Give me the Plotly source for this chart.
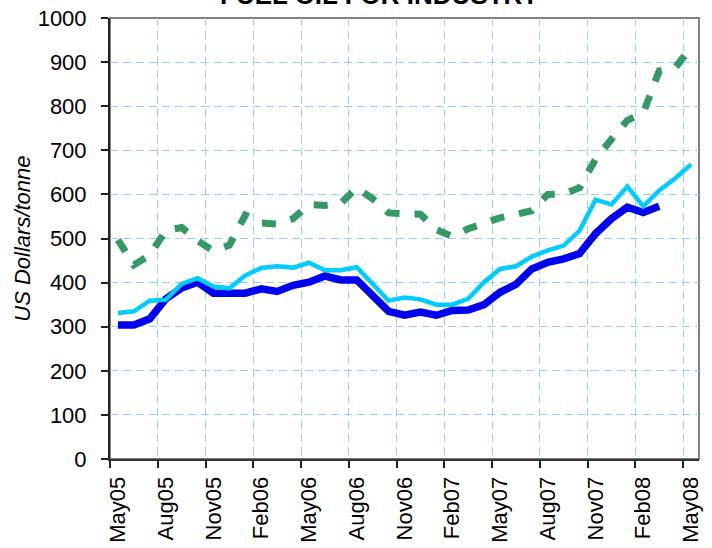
import plotly.graph_objects as go

# Meses (eje de categorías)
meses = ["May05", "Jun05", "Jul05", "Aug05", "Sep05", "Oct05", "Nov05", "Dec05",
         "Jan06", "Feb06", "Mar06", "Apr06", "May06", "Jun06", "Jul06", "Aug06",
         "Sep06", "Oct06", "Nov06", "Dec06", "Jan07", "Feb07", "Mar07", "Apr07",
         "May07", "Jun07", "Jul07", "Aug07", "Sep07", "Oct07", "Nov07", "Dec07",
         "Jan08", "Feb08", "Mar08", "Apr08", "May08"]

# Serie azul oscuro (termina en Mar08)
serie_azul = [304, 304, 318, 363, 388, 401, 376, 376, 376, 386, 380, 394,
              401, 415, 406, 406, 371, 335, 326, 333, 326, 337, 338, 350,
              378, 396, 431, 446, 454, 466, 511, 545, 571, 559, 573]

# Serie azul claro
serie_celeste = [331, 335, 359, 361, 397, 410, 391, 387, 416, 433, 437, 434,
                 445, 428, 428, 435, 397, 359, 366, 362, 350, 350, 363, 401,
                 431, 437, 459, 473, 484, 518, 588, 577, 618, 573, 609, 636, 668]

# Serie verde discontinua
serie_verde = [497, 440, 462, 518, 525, 495, 472, 485, 553, 535, 533, 545,
               577, 575, 580, 615, 590, 558, 556, 555, 520, 505, 522, 535,
               547, 555, 563, 600, 601, 615, 680, 725, 768, 785, 880, 887, 933]

valores_y = [0, 100, 200, 300, 400, 500, 600, 700, 800, 900, 1000]


def crear_grafico():
    x_idx = list(range(len(meses)))
    fuente = "Liberation Sans, Arial, sans-serif"

    fig = go.Figure()

    fig.add_trace(go.Scatter(x=x_idx[:len(serie_azul)], y=serie_azul, mode="lines",
                             line=dict(color="#0000F0", width=7.5)))
    fig.add_trace(go.Scatter(x=x_idx, y=serie_celeste, mode="lines",
                             line=dict(color="#00CCFF", width=4.5)))
    fig.add_trace(go.Scatter(x=x_idx, y=serie_verde, mode="lines",
                             line=dict(color="#339966", width=7, dash="14px,15px")))

    # Marcas y rejilla en los limites entre trimestres, etiquetas en el centro del mes
    bordes = [i - 0.5 for i in x_idx[::3]]
    etiquetas = meses[::3]

    fig.update_xaxes(range=[-0.5, len(meses) - 0.5], automargin=False,
                     tickmode="array", tickvals=bordes, ticktext=etiquetas,
                     ticklabelshift=8, tickangle=-90,
                     ticks="outside", ticklen=7, tickwidth=1.5, tickcolor="#222",
                     showline=True, linecolor="#333", linewidth=2,
                     showgrid=True, gridcolor="#99CCFF", gridwidth=1, griddash="8px,5px",
                     zeroline=False,
                     tickfont=dict(family=fuente, size=22, color="black"))

    fig.update_yaxes(range=[0, 1000], automargin=False,
                     tickmode="array", tickvals=valores_y,
                     ticks="outside", ticklen=7, tickwidth=1.5, tickcolor="#222",
                     ticklabelstandoff=10,
                     showline=True, linecolor="#222", linewidth=2,
                     showgrid=True, gridcolor="#99CCFF", gridwidth=1, griddash="8px,5px",
                     zeroline=False,
                     tickfont=dict(family=fuente, size=22, color="black"))

    # Marco gris del area de trazado
    fig.add_shape(type="rect", xref="paper", yref="paper", x0=0, y0=0, x1=1, y1=1,
                  line=dict(color="#808080", width=2), layer="below")

    # Titulo (cortado arriba en el original)
    fig.add_annotation(text="<b>FUEL OIL FOR INDUSTRY</b>", xref="paper", yref="paper",
                       x=0.457, y=1.014, xanchor="center", yanchor="bottom",
                       showarrow=False, font=dict(family=fuente, size=26, color="black"))

    # Titulo del eje Y
    fig.add_annotation(text="<i>US Dollars/tonne</i>", xref="paper", yref="paper",
                       x=-0.149, y=0.5, xanchor="center", yanchor="middle",
                       textangle=-90, showarrow=False,
                       font=dict(family=fuente, size=22, color="black"))

    fig.update_layout(width=712, height=548,
                      margin=dict(l=110, r=13, t=18, b=89),
                      paper_bgcolor="white", plot_bgcolor="white",
                      showlegend=False)
    return fig


fig = crear_grafico()
# Quitar el margen del body para que la figura empiece en (0, 0)
fig.write_html("out.html", config={"displayModeBar": False},
               post_script="document.body.style.margin='0';")
